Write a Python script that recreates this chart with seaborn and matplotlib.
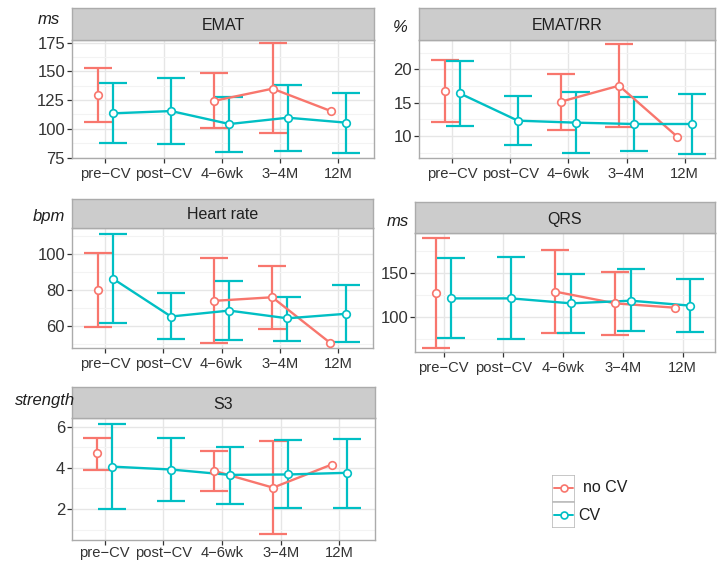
import numpy as np
import pandas as pd
import matplotlib
matplotlib.use("Agg")
import matplotlib.pyplot as plt
from matplotlib.patches import Rectangle
from matplotlib.lines import Line2D
import seaborn as sns

sns.set_theme(style="white")
plt.rcParams["font.family"] = ["Liberation Sans", "DejaVu Sans"]

# ---- data -----------------------------------------------------------------
times = ["pre\u2212CV", "post\u2212CV", "4\u22126wk", "3\u22124M", "12M"]
groups = ["no CV", "CV"]
nan = np.nan

emat_nocv_mean = [129.3, nan, 124.4, 135.0, 115.5]
emat_nocv_lo = [105.7, nan, 100.5, 96.2, nan]
emat_nocv_hi = [153.0, nan, 148.6, 174.6, nan]
emat_cv_mean = [113.5, 115.5, 104.2, 109.7, 105.4]
emat_cv_lo = [87.8, 87.2, 80.0, 81.0, 79.0]
emat_cv_hi = [140.3, 144.3, 127.9, 138.0, 131.0]

emrr_nocv_mean = [16.8, nan, 15.15, 17.55, 9.9]
emrr_nocv_lo = [12.15, nan, 10.9, 11.4, nan]
emrr_nocv_hi = [21.4, nan, 19.3, 23.8, nan]
emrr_cv_mean = [16.4, 12.3, 12.0, 11.8, 11.8]
emrr_cv_lo = [11.55, 8.6, 7.4, 7.7, 7.3]
emrr_cv_hi = [21.3, 16.0, 16.65, 15.9, 16.3]

hr_nocv_mean = [80.0, nan, 74.1, 76.1, 50.6]
hr_nocv_lo = [59.4, nan, 50.7, 58.5, nan]
hr_nocv_hi = [100.5, nan, 97.8, 93.5, nan]
hr_cv_mean = [86.5, 65.4, 68.7, 64.4, 66.9]
hr_cv_lo = [62.0, 52.8, 52.4, 51.9, 51.1]
hr_cv_hi = [111.1, 78.7, 85.2, 76.5, 83.0]

qrs_nocv_mean = [127.1, nan, 128.6, 115.4, 110.5]
qrs_nocv_lo = [65.4, nan, 81.6, 79.7, nan]
qrs_nocv_hi = [189.5, nan, 175.6, 151.1, nan]
qrs_cv_mean = [121.0, 121.0, 115.4, 118.4, 112.8]
qrs_cv_lo = [76.7, 74.8, 81.6, 84.6, 83.5]
qrs_cv_hi = [166.2, 168.0, 148.9, 154.1, 142.5]

s3_nocv_mean = [4.70, nan, 3.85, 3.04, 4.16]
s3_nocv_lo = [3.92, nan, 2.87, 0.78, nan]
s3_nocv_hi = [5.47, nan, 4.84, 5.31, nan]
s3_cv_mean = [4.06, 3.92, 3.66, 3.68, 3.76]
s3_cv_lo = [2.0, 2.38, 2.25, 2.07, 2.07]
s3_cv_hi = [6.15, 5.47, 5.02, 5.33, 5.38]

panels = [
    # title, unit, (no CV mean/lo/hi), (CV mean/lo/hi), y ticks
    ("EMAT", "ms", (emat_nocv_mean, emat_nocv_lo, emat_nocv_hi),
     (emat_cv_mean, emat_cv_lo, emat_cv_hi), [75, 100, 125, 150, 175]),
    ("EMAT/RR", "%", (emrr_nocv_mean, emrr_nocv_lo, emrr_nocv_hi),
     (emrr_cv_mean, emrr_cv_lo, emrr_cv_hi), [10, 15, 20]),
    ("Heart rate", "bpm", (hr_nocv_mean, hr_nocv_lo, hr_nocv_hi),
     (hr_cv_mean, hr_cv_lo, hr_cv_hi), [60, 80, 100]),
    ("QRS", "ms", (qrs_nocv_mean, qrs_nocv_lo, qrs_nocv_hi),
     (qrs_cv_mean, qrs_cv_lo, qrs_cv_hi), [100, 150]),
    ("S3", "strength", (s3_nocv_mean, s3_nocv_lo, s3_nocv_hi),
     (s3_cv_mean, s3_cv_lo, s3_cv_hi), [2, 4, 6]),
]

palette = {"no CV": "#F8766D", "CV": "#00BFC4"}
dodge = {"no CV": -0.13, "CV": 0.13}

# ---- layout (pixel boxes: left, strip top, strip bottom, right, bottom) ----
W, H = 724, 561
boxes = [
    (72, 8, 40, 374, 158),
    (419, 8, 40, 715, 158),
    (72, 199, 228, 373, 348),
    (415, 202, 233, 715, 352),
    (72, 387, 418, 375, 540),
]
xlims = [(-0.57, 4.61), (-0.57, 4.52), (-0.57, 4.60), (-0.48, 4.54), (-0.56, 4.61)]
ylims = [(74.6, 177.4), (6.7, 24.4), (47.9, 114.6), (60.5, 194.8), (0.5, 6.42)]
unit_pos = [(49, 20), (400, 27), (49, 216), (398, 221), (45, 400)]
xpads = [3.0, 3.0, 3.0, 3.0, 1.0]

BORDER = "#ABABAB"
STRIP = "#CCCCCC"
TEXT = "#333333"


def frac(l, t, r, b):
    return [l / W, 1 - b / H, (r - l) / W, (b - t) / H]


def tidy(mean, lo, hi, group):
    d = pd.DataFrame({"time": times, "mean": mean, "lo": lo, "hi": hi})
    d["group"] = group
    d["xpos"] = np.arange(len(times)) + dodge[group]
    # consecutive observed time points form one connected run
    present = d["mean"].notna()
    d["run"] = (present != present.shift()).cumsum()
    return d


fig = plt.figure(figsize=(W / 100, H / 100), dpi=100)
fig.patch.set_facecolor("white")

for (title, unit, nocv, cv, yt), box, xl, yl, up, xp in zip(
        panels, boxes, xlims, ylims, unit_pos, xpads):
    l, st, sb, r, b = box
    ax = fig.add_axes(frac(l, sb, r, b))
    sax = fig.add_axes(frac(l, st, r, sb))

    df = pd.concat([tidy(*nocv, "no CV"), tidy(*cv, "CV")], ignore_index=True)

    ax.set_xlim(*xl)
    ax.set_ylim(*yl)
    ax.set_facecolor("white")

    # grid
    ax.set_yticks(yt)
    step = yt[1] - yt[0]
    minors = np.arange(yt[0] - step / 2, yl[1], step)
    ax.set_yticks(minors[(minors > yl[0]) & (minors < yl[1])], minor=True)
    ax.set_xticks(range(len(times)))
    ax.set_xticklabels(times)
    ax.grid(True, which="major", color="#E6E6E6", lw=1.0, zorder=0)
    ax.grid(True, which="minor", axis="y", color="#F3F3F3", lw=0.8, zorder=0)
    ax.set_axisbelow(True)

    for g in groups:
        sub = df[df["group"] == g]
        eb = sub.dropna(subset=["lo", "hi"])
        ax.errorbar(eb["xpos"], eb["mean"],
                    yerr=[eb["mean"] - eb["lo"], eb["hi"] - eb["mean"]],
                    fmt="none", ecolor=palette[g], elinewidth=1.6,
                    capsize=9.8, capthick=1.6, zorder=2)

    obs = df.dropna(subset=["mean"])
    sns.lineplot(data=obs, x="xpos", y="mean", hue="group", units="run",
                 estimator=None, palette=palette, hue_order=groups,
                 sort=False, lw=1.7, legend=False, ax=ax, zorder=3)
    for g in groups:
        sns.scatterplot(data=obs[obs["group"] == g], x="xpos", y="mean",
                        color="white", edgecolor=palette[g], s=30,
                        linewidth=1.2, legend=False, ax=ax, zorder=4)

    ax.set_xlabel("")
    ax.set_ylabel("")
    for sp in ax.spines.values():
        sp.set_color(BORDER)
        sp.set_linewidth(1.0)
    ax.tick_params(axis="both", which="major", length=3.5, width=0.9,
                   color="#333333", labelcolor=TEXT,
                   direction="out", bottom=True, left=True)
    ax.tick_params(axis="x", pad=xp, labelsize=10.6)
    ax.tick_params(axis="y", pad=1.5, labelsize=12)
    ax.tick_params(which="minor", length=0)

    # facet strip
    sax.set_facecolor(STRIP)
    sax.set_xticks([])
    sax.set_yticks([])
    for sp in sax.spines.values():
        sp.set_color(BORDER)
        sp.set_linewidth(1.0)
    sax.text(0.5, 0.45, title, ha="center", va="center", fontsize=11.5,
             color="#1F1F1F", transform=sax.transAxes)

    fig.text(up[0] / W, 1 - up[1] / H, unit, ha="center", va="center",
             fontsize=12, style="italic", color="#1F1F1F")

# ---- legend ----------------------------------------------------------------
lax = fig.add_axes(frac(552, 475, 575, 528))
lax.set_xlim(0, 1)
lax.set_ylim(2, 0)
lax.axis("off")
for i, g in enumerate(groups):
    lax.add_patch(Rectangle((0, i), 1, 1, facecolor="white",
                            edgecolor="#BDBDBD", lw=1.2))
    lax.add_line(Line2D([0.1, 0.9], [i + 0.5, i + 0.5], color=palette[g],
                        lw=1.4, marker=""))
    lax.plot([0.5], [i + 0.5], marker="o", ms=5, mfc="white",
             mec=palette[g], mew=1.2, ls="")
fig.text(583 / W, 1 - 488 / H, "no CV", ha="left", va="center",
         fontsize=11.5, color="#1F1F1F")
fig.text(578 / W, 1 - 515 / H, "CV", ha="left", va="center",
         fontsize=11.5, color="#1F1F1F")

fig.savefig("out.png", dpi=100, facecolor="white")
